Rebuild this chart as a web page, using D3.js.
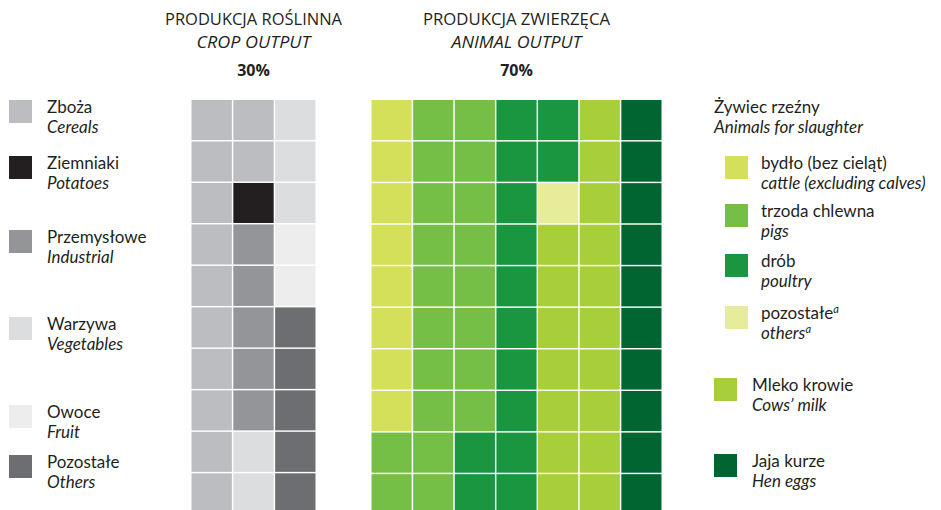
<!DOCTYPE html>
<html>
<head>
<meta charset="utf-8">
<script src="https://cdn.jsdelivr.net/npm/d3@7"></script>
<style>
  body { margin: 0; background: #fff; }
  svg text { font-family: "Open Sans", sans-serif; fill: #231f20; }
  svg text.leg { font-family: Lato, sans-serif; }
</style>
</head>
<body>
<div id="chart"></div>
<script>
// crop output (30 cells)
var cropNamesPl = ["Zboża", "Ziemniaki", "Przemysłowe", "Warzywa", "Owoce", "Pozostałe"];
var cropNamesEn = ["Cereals", "Potatoes", "Industrial", "Vegetables", "Fruit", "Others"];
var cropCells = [12, 1, 5, 5, 2, 5];
var cropColors = ["#bcbdc0", "#231f20", "#939598", "#dcdddf", "#ededee", "#6d6e71"];

// animal output (70 cells)
var animalNamesPl = ["bydło (bez cieląt)", "trzoda chlewna", "drób", "pozostałe", "Mleko krowie", "Jaja kurze"];
var animalNamesEn = ["cattle (excluding calves)", "pigs", "poultry", "others", "Cows’ milk", "Hen eggs"];
var animalCells = [8, 20, 14, 1, 17, 10];
var animalColors = ["#d4e05a", "#76bf46", "#1a9641", "#e7ec9a", "#a8cf3a", "#006530"];

var panelTitlesPl = ["PRODUKCJA  ROŚLINNA", "PRODUKCJA  ZWIERZĘCA"];
var panelTitlesEn = ["CROP  OUTPUT", "ANIMAL  OUTPUT"];
var panelShares = ["30%", "70%"];

var width = 941, height = 510;
var ROWS = 10;
var FS = 17;

var svg = d3.select('#chart')
  .append('svg')
	.attr('width', width)
	.attr('height', height);

// expand counts into a column-major list of cells
function expand(counts) {
	var cells = [];
	counts.forEach(function (n, k) {
		for (var j = 0; j < n; j++) cells.push(k);
	});
	return cells;
}

function drawWaffle(counts, colors, x0, x1) {
	var cols = Math.round(d3.sum(counts) / ROWS);
	var x = d3.scaleBand().domain(d3.range(cols)).range([x0, x1]).paddingInner(0.035);
	var y = d3.scaleBand().domain(d3.range(ROWS)).range([100, 100 + (x1 - x0) / cols * ROWS]).paddingInner(0.035);
	var color = d3.scaleOrdinal().domain(d3.range(colors.length)).range(colors);

	svg.append('g').selectAll('rect')
		.data(expand(counts))
		.enter().append('rect')
		.attr('x', function (d, i) { return x(Math.floor(i / ROWS)); })
		.attr('y', function (d, i) { return y(i % ROWS); })
		.attr('width', x.bandwidth())
		.attr('height', y.bandwidth())
		.attr('fill', function (d) { return color(d); });

	return (x0 + x1) / 2;
}

var cx1 = drawWaffle(cropCells, cropColors, 191.5, 315.5);
var cx2 = drawWaffle(animalCells, animalColors, 371.5, 661.5);

//* PANEL TITLES
var titleWidths = [[177, 114], [187, 130]];
[cx1, cx2].forEach(function (cx, i) {
	svg.append('text')
		.attr('x', cx).attr('y', 25)
		.attr('font-size', 16)
		.attr('textLength', titleWidths[i][0])
		.attr('lengthAdjust', 'spacingAndGlyphs')
		.style('text-anchor', 'middle')
		.text(panelTitlesPl[i]);
	svg.append('text')
		.attr('x', cx).attr('y', 48)
		.attr('font-size', 16)
		.attr('font-style', 'italic')
		.attr('textLength', titleWidths[i][1])
		.attr('lengthAdjust', 'spacingAndGlyphs')
		.style('text-anchor', 'middle')
		.text(panelTitlesEn[i]);
	svg.append('text')
		.attr('x', cx).attr('y', 76)
		.attr('font-size', 16)
		.attr('font-weight', 700)
		.style('text-anchor', 'middle')
		.text(panelShares[i]);
});

//* LEGEND ITEM
function legendItem(sx, sy, tx, color, pl, en, sup) {
	var g = svg.append('g');
	g.append('rect')
		.attr('x', sx).attr('y', sy)
		.attr('width', 23).attr('height', 23)
		.attr('fill', color);
	var t1 = g.append('text')
		.attr('class', 'leg')
		.attr('x', tx).attr('y', sy + 13)
		.attr('font-size', FS)
		.text(pl);
	var t2 = g.append('text')
		.attr('class', 'leg')
		.attr('x', tx).attr('y', sy + 33)
		.attr('font-size', FS)
		.attr('font-style', 'italic')
		.text(en);
	if (sup) {
		[t1, t2].forEach(function (t) {
			t.append('tspan')
				.attr('font-size', 11)
				.attr('font-style', 'italic')
				.attr('dy', -6)
				.text(sup);
		});
	}
}

// left legend (crop)
var cropLegendY = [100, 156, 230, 317, 405, 455];
cropNamesPl.forEach(function (name, i) {
	legendItem(9, cropLegendY[i], 47, cropColors[i], name, cropNamesEn[i]);
});

// right legend (animal)
svg.append('text')
	.attr('class', 'leg')
	.attr('x', 714).attr('y', 113)
	.attr('font-size', FS)
	.text('Żywiec rzeźny');
svg.append('text')
	.attr('class', 'leg')
	.attr('x', 714).attr('y', 133)
	.attr('font-size', FS)
	.attr('font-style', 'italic')
	.text('Animals for slaughter');

var animalLegendY = [156, 204, 254, 306, 378, 454];
animalNamesPl.forEach(function (name, i) {
	var sub = i < 4;
	legendItem(sub ? 725 : 714, animalLegendY[i], sub ? 761 : 752,
		animalColors[i], name, animalNamesEn[i], i === 3 ? 'a' : null);
});
</script>
</body>
</html>
